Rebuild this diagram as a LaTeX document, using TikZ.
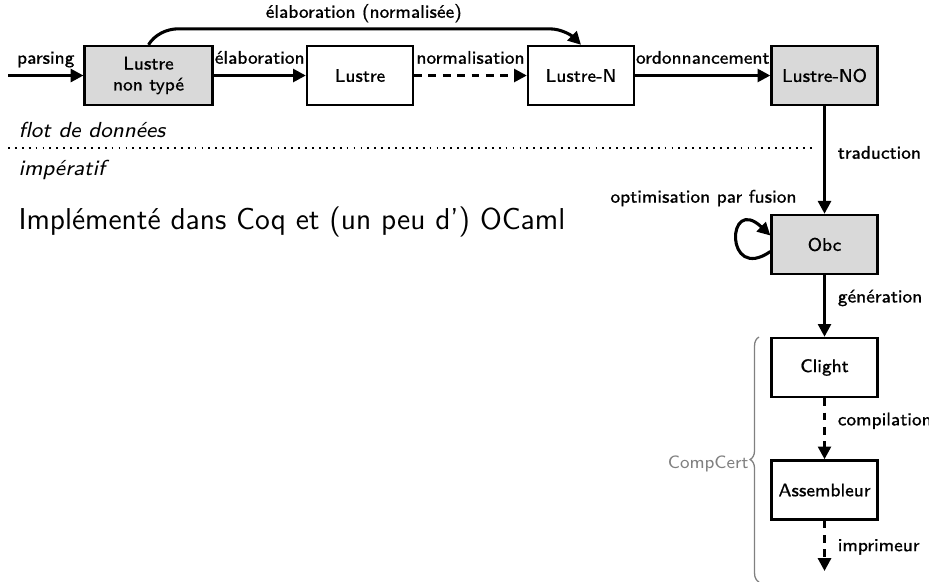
\documentclass[tikz,border=0pt]{standalone}
\usepackage{fontspec}
\usetikzlibrary{arrows.meta,decorations.pathreplacing,calc}
\setsansfont{Latin Modern Sans}
\newfontfamily\lblfont{Latin Modern Sans}[FakeBold=0.7]
\newcommand{\lblsize}{\lblfont\fontsize{7.15}{8.2}\selectfont}
\begin{document}
\begin{tikzpicture}[x=0.390625pt,y=0.390625pt,
  box/.style={draw,line width=1pt,minimum width=41.3pt,minimum height=23pt,align=center,font=\lblsize,inner sep=0pt},
  gbox/.style={box,fill=black!15},
  arr/.style={line width=1.2pt,-{Triangle[length=5pt,width=5pt]}},
  dsh/.style={arr,dash pattern=on 3pt off 2.6pt},
  lbl/.style={font=\lblsize,inner sep=0pt},
  hl/.style={lbl,anchor=base,yshift=4.6pt},
  vl/.style={lbl,anchor=west,xshift=4.6pt}]
\useasboundingbox (0,0) rectangle (929,-581);
\node[gbox,minimum width=49.8pt] (lnt) at (148.5,-75.5) {Lustre\\non typé};
\node[box] (lus) at (360,-75.5) {Lustre};
\node[box] (ln) at (581,-75.5) {Lustre-N};
\node[gbox] (lno) at (824.5,-75.5) {Lustre-NO};
\node[gbox] (obc) at (824.5,-244.5) {Obc};
\node[box] (cl) at (824.5,-367.5) {Clight};
\node[box] (asm) at (824.5,-490) {Assembleur};
\coordinate (in) at (8,-75.5);
\coordinate (out) at (824.5,-571);
\draw[arr] (in) -- node[hl] {parsing} (lnt);
\draw[arr] (lnt) -- node[hl] {élaboration} (lus);
\draw[dsh] (lus) -- node[hl] {normalisation} (ln);
\draw[arr] (ln) -- node[hl] {ordonnancement} (lno);
\draw[arr] (lnt.north) .. controls +(6,10) and +(-12,0) .. ($(lnt.north)+(30,16)$)
  -- node[lbl,anchor=base,yshift=4.3pt] {élaboration (normalisée)} ($(ln.north)+(-32,16)$)
  .. controls +(14,0) and +(-8,8) .. (ln.north);
\draw[arr] (lno) -- node[vl,pos=0.43] {traduction} (obc);
\draw[arr] (obc) -- node[vl,pos=0.37] {génération} (cl);
\draw[dsh] (cl) -- node[vl,pos=0.37] {compilation} (asm);
\draw[dsh] (asm) -- node[vl,pos=0.52] {imprimeur} (out);
\coordinate (lpA) at ($(obc.west)+(0,-7)$);
\coordinate (lpB) at ($(obc.west)+(0,9)$);
\draw[arr] (lpA) .. controls +(-46,-32) and +(-44,42) .. (lpB);
\node[lbl,anchor=east] (opt) at (797,-198) {optimisation par fusion};
\draw[dotted,line width=0.7pt] (8,-148) -- (813,-148);
\node[anchor=base west,font=\sffamily\itshape\fontsize{8.5}{10}\selectfont,inner sep=0pt] (fd) at (18,-137) {flot de données};
\node[anchor=base west,font=\sffamily\itshape\fontsize{8.5}{10}\selectfont,inner sep=0pt] (imp) at (18,-175) {impératif};
\node[anchor=base west,font=\sffamily\fontsize{11.8}{13}\selectfont,inner sep=0pt] (impl) at (18,-229) {Implémenté dans Coq et (un peu d') OCaml};
\draw[decorate,decoration={brace,amplitude=3.5pt},black!50,line width=0.5pt] (759,-582) -- (759,-337);
\node[anchor=east,font=\sffamily\fontsize{7}{8}\selectfont,text=black!50,inner sep=0pt] (cc) at (749,-464) {CompCert};
\end{tikzpicture}
\end{document}
